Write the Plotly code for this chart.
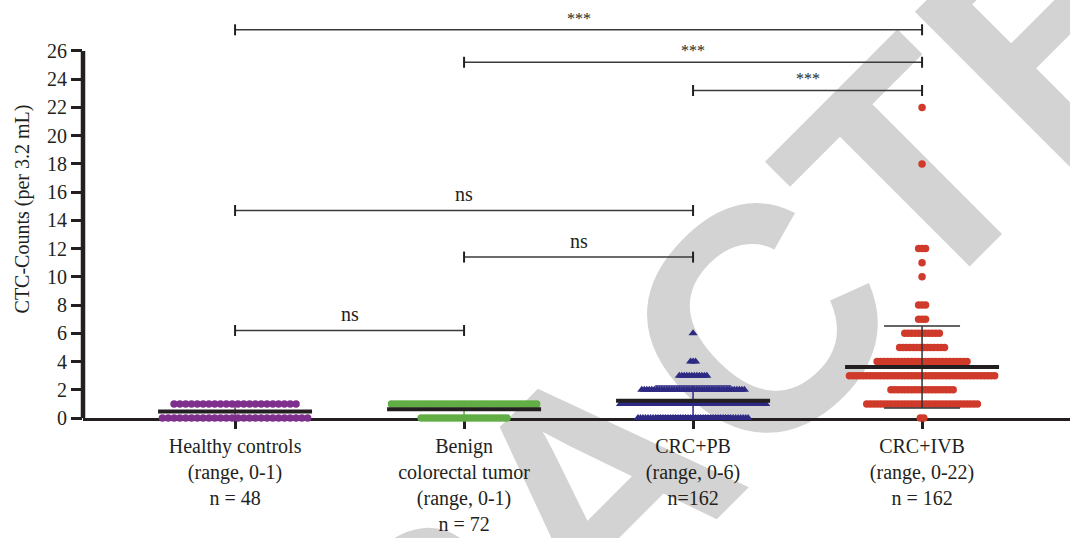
import numpy as np
import plotly.graph_objects as go

# Groups shown on the x axis (multi-line tick labels)
group_labels = [
    "Healthy controls<br>(range, 0-1)<br>n = 48",
    "Benign<br>colorectal tumor<br>(range, 0-1)<br>n = 72",
    "CRC+PB<br>(range, 0-6)<br>n=162",
    "CRC+IVB<br>(range, 0-22)<br>n = 162",
]

# CTC counts: distinct values and how many patients share each value
healthy_values = [0, 1]
healthy_counts = [26, 22]

benign_values = [0, 1]
benign_counts = [27, 45]

pb_values = [0, 1, 2, 3, 4, 6]
pb_counts = [45, 59, 42, 12, 3, 1]

ivb_values = [0, 1, 2, 3, 4, 5, 6, 7, 8, 10, 11, 12, 18, 22]
ivb_counts = [2, 33, 19, 43, 27, 14, 11, 3, 3, 1, 1, 3, 1, 1]

# Pairwise comparisons: left group, right group, bracket height, result
comp_left = [0, 1, 2, 0, 1, 0]
comp_right = [3, 3, 3, 2, 2, 1]
comp_height = [27.5, 25.2, 23.2, 14.7, 11.4, 6.2]
comp_label = ["***", "***", "***", "ns", "ns", "ns"]

y_ticks = list(range(0, 27, 2))

# ---- styling ----
TXT = "#231f20"
SERIF = "Liberation Serif"
colors = ["#7f2f8c", "#62ad45", "#2e2a84", "#cf3a2a"]
err_colors = ["#7f2f8c", "#62ad45", "#2e2a84", "#333333"]
symbols = ["circle", "circle", "triangle-up", "circle"]
msize = [7.5, 7.5, 8, 7.5]
HALF_SPREAD = 0.317  # half width of the widest row, in category units

data = [
    (healthy_values, healthy_counts),
    (benign_values, benign_counts),
    (pb_values, pb_counts),
    (ivb_values, ivb_counts),
]

fig = go.Figure()

# Scatter dot plot: each row of equal values is spread sideways
for gi, (vals, cnts) in enumerate(data):
    step = 2 * HALF_SPREAD / (max(cnts) - 1)
    xs, ys = [], []
    for v, n in zip(vals, cnts):
        offs = (np.arange(n) - (n - 1) / 2) * step
        xs.extend(gi + offs)
        ys.extend([v] * n)
    fig.add_trace(go.Scatter(
        x=xs, y=ys, mode="markers", cliponaxis=False, showlegend=False,
        marker=dict(symbol=symbols[gi], size=msize[gi], color=colors[gi],
                    line=dict(width=0)),
        hoverinfo="skip",
    ))

# Mean line with SD error bars
for gi, (vals, cnts) in enumerate(data):
    full = np.repeat(vals, cnts)
    mean = float(full.mean())
    sd = float(full.std(ddof=1))
    fig.add_trace(go.Scatter(
        x=[gi], y=[mean], mode="markers", cliponaxis=False, showlegend=False,
        marker=dict(symbol="line-ew", size=110, color=TXT,
                    line=dict(width=4, color=TXT)),
        error_y=dict(type="data", array=[sd], visible=True, width=38,
                     thickness=1.5, color=err_colors[gi]),
        hoverinfo="skip",
    ))

shapes = []
annotations = []

# Significance brackets
for l, r, h, lab in zip(comp_left, comp_right, comp_height, comp_label):
    shapes.append(dict(type="line", xref="x", yref="y", x0=l, x1=r, y0=h, y1=h,
                       line=dict(color="#3a3a3a", width=1.6), layer="above"))
    for xe in (l, r):
        shapes.append(dict(type="line", xref="x", yref="y", x0=xe, x1=xe,
                           ysizemode="pixel", yanchor=h, y0=-5.5, y1=5.5,
                           line=dict(color="#231f20", width=2), layer="above"))
    is_star = lab == "***"
    annotations.append(dict(
        x=(l + r) / 2, y=h, xref="x", yref="y", text=lab, showarrow=False,
        yanchor="bottom", yshift=1 if is_star else 3,
        font=dict(family=SERIF, size=16 if is_star else 20, color=TXT),
    ))

# Left axis line stopping at the top tick
shapes.append(dict(type="line", xref="paper", yref="y", x0=0, x1=0,
                   y0=0, y1=y_ticks[-1], line=dict(color=TXT, width=4.5),
                   layer="below"))

# Retraction watermark behind the plot
shapes.append(dict(
    type="rect", xref="paper", yref="paper", x0=0.4877, x1=0.5077,
    y0=-0.118, y1=-0.098, line=dict(width=0), fillcolor="rgba(0,0,0,0)",
    layer="below",
    label=dict(text="RETRACTED", textangle=-45, textposition="middle center",
               font=dict(family="Liberation Sans", size=318, color="#d3d3d3",
                         weight="bold")),
))

fig.update_layout(
    width=1070, height=538,
    margin=dict(l=83, r=0, t=0, b=120),
    paper_bgcolor="white", plot_bgcolor="white",
    shapes=shapes, annotations=annotations,
    font=dict(family=SERIF, size=20, color=TXT),
    xaxis=dict(
        range=[-0.664, 3.646], tickvals=[0, 1, 2, 3], ticktext=group_labels,
        showline=True, linewidth=3, linecolor=TXT, ticks="outside",
        ticklen=8, tickwidth=3, tickcolor=TXT, showgrid=False, zeroline=False,
        layer="below traces", tickfont=dict(family=SERIF, size=20, color=TXT),
    ),
    yaxis=dict(
        range=[0, 29.61], tickvals=y_ticks, showline=False, ticks="outside",
        ticklen=11, tickwidth=3.3, tickcolor=TXT, showgrid=False,
        zeroline=False, tickfont=dict(family=SERIF, size=20, color=TXT),
        title=dict(text="CTC-Counts (per 3.2 mL)", standoff=12,
                   font=dict(family=SERIF, size=20, color=TXT)),
    ),
)

fig.write_html("out.html")
